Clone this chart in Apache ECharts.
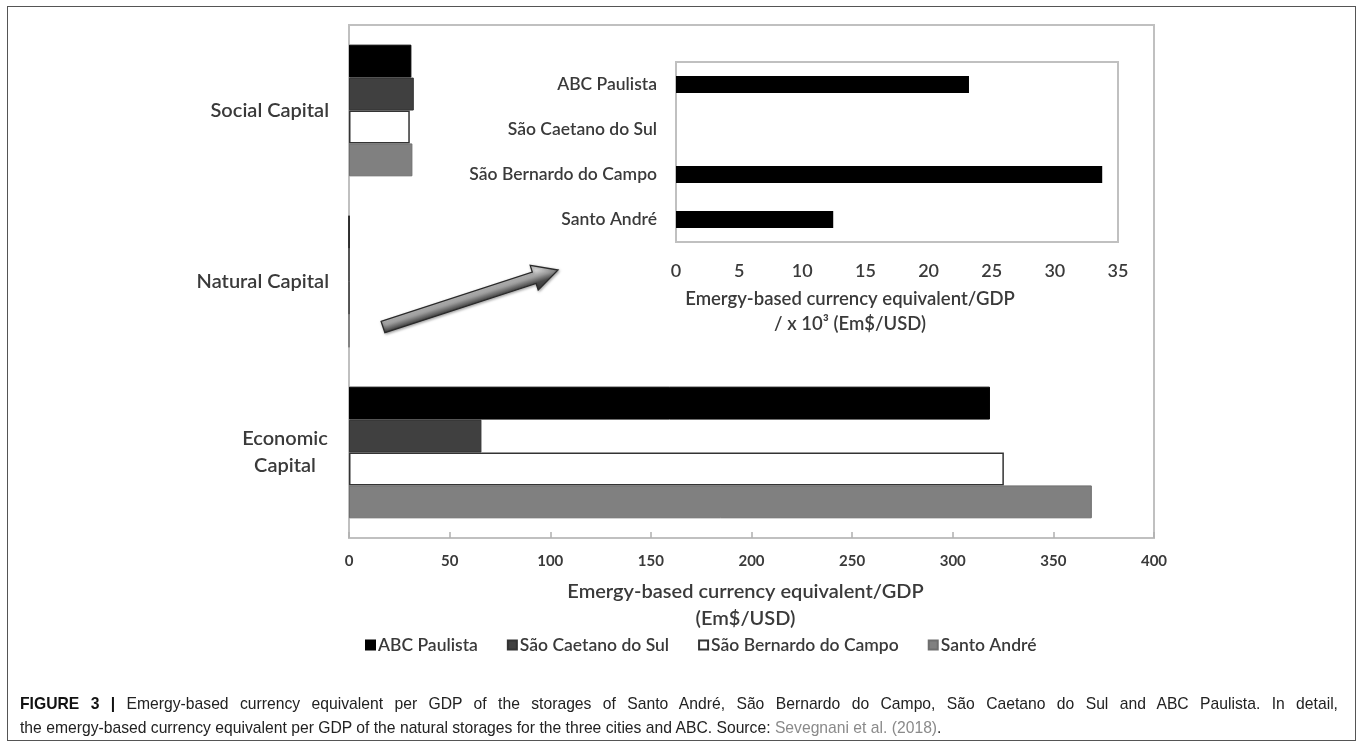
<!DOCTYPE html>
<html>
<head>
<meta charset="utf-8">
<script src="https://cdn.jsdelivr.net/npm/echarts@6/dist/echarts.min.js"></script>
<style>
  html, body { margin: 0; padding: 0; background: #fff; }
  #wrap { position: relative; width: 1358px; height: 742px; overflow: hidden; }
  #frame { position: absolute; left: 7px; top: 6px; width: 1347px; height: 733px; border: 1.5px solid #555; }
  #chart { position: absolute; left: 0; top: 0; width: 1358px; height: 742px; }
  #caption { position: absolute; left: 20px; top: 692px; width: 1318px; font-family: "Liberation Sans", Arial, sans-serif;
             font-size: 15.7px; line-height: 24px; color: #222; white-space: nowrap; }
  #caption .l1 { text-align: justify; text-align-last: justify; white-space: normal; }
  #caption b { color: #111; }
  #caption .ref { color: #8a8a8a; }
</style>
</head>
<body>
<div id="wrap">
  <div id="frame"></div>
  <div id="chart"></div>
  <div id="caption"><div class="l1"><b>FIGURE 3 |</b> Emergy-based currency equivalent per GDP of the storages of Santo André, São Bernardo do Campo, São Caetano do Sul and ABC Paulista. In detail,</div><div>the emergy-based currency equivalent per GDP of the natural storages for the three cities and ABC. Source: <span class="ref">Sevegnani et al. (2018)</span>.</div></div>
</div>
<script>
// ---- Main chart data ----
const capitalCategories = ['Social Capital', 'Natural Capital', 'Economic Capital'];
const seriesNames = ['ABC Paulista', 'São Caetano do Sul', 'São Bernardo do Campo', 'Santo André'];
const abcPaulista = [31.0, 0.0232, 318.5];
const saoCaetano = [32.2, 0, 65.8];
const saoBernardo = [30.2, 0.0338, 325.4];
const santoAndre = [31.5, 0.0125, 369.1];
const mainTicks = [0, 50, 100, 150, 200, 250, 300, 350, 400];

// ---- Inset (natural storages, x10^-3) ----
const insetCities = ['ABC Paulista', 'São Caetano do Sul', 'São Bernardo do Campo', 'Santo André'];
const insetValues = [23.2, 0, 33.75, 12.45];
const insetTicks = [0, 5, 10, 15, 20, 25, 30, 35];

const FONT = 'Lato, "Open Sans", sans-serif';
const LABEL_COLOR = '#3a3a3a';

const chart = echarts.init(document.getElementById('chart'));

const styles = [
  { color: '#000000', borderColor: '#000000', borderWidth: 1 },
  { color: '#404040', borderColor: '#333333', borderWidth: 1 },
  { color: '#ffffff', borderColor: '#333333', borderWidth: 1.5 },
  { color: '#808080', borderColor: '#6e6e6e', borderWidth: 1 }
];
const mainData = [abcPaulista, saoCaetano, saoBernardo, santoAndre];

const mainSeries = seriesNames.map((n, i) => ({
  name: n,
  type: 'bar',
  xAxisIndex: 0,
  yAxisIndex: 0,
  data: mainData[i],
  barGap: '0%',
  barCategoryGap: '23%',
  itemStyle: styles[i],
  silent: true
}));

// arrow geometry (decoration)
const arrowPts = [[381.1,321.3],[532.3,272.0],[530.2,265.4],[558,270],[538.2,290.1],[536.1,283.5],[384.9,332.7]];
// gradient perpendicular to arrow direction (global coords)
const arrowFill = new echarts.graphic.LinearGradient(466.0, 285.6, 474.0, 310.4, [
  { offset: 0, color: '#e0e0e0' },
  { offset: 0.27, color: '#d4d4d4' },
  { offset: 0.5, color: '#9a9a9a' },
  { offset: 0.73, color: '#4a4a4a' },
  { offset: 1, color: '#3a3a3a' }
], true);

const option = {
  animation: false,
  backgroundColor: 'transparent',
  grid: [
    { left: 349, top: 25, width: 805, height: 513, show: true, borderColor: '#c0c0c0', borderWidth: 2, backgroundColor: 'transparent', containLabel: false },
    { left: 676, top: 62, width: 442, height: 180, show: true, borderColor: '#c0c0c0', borderWidth: 2, backgroundColor: '#ffffff', containLabel: false, z: 5 }
  ],
  legend: {
    data: seriesNames,
    left: 360,
    top: 631,
    itemWidth: 9,
    itemHeight: 9,
    itemGap: 29,
    icon: 'rect',
    textStyle: { fontFamily: FONT, fontSize: 17.5, fontWeight: 600, color: LABEL_COLOR, padding: [0, 0, 0, -2] }
  },
  xAxis: [
    {
      gridIndex: 0, type: 'value', min: mainTicks[0], max: mainTicks[mainTicks.length - 1], interval: 50,
      axisLine: { show: true, lineStyle: { color: '#c0c0c0', width: 2 } },
      axisTick: { show: true, inside: true, length: 6, lineStyle: { color: '#b0b0b0', width: 1.5 } },
      splitLine: { show: false },
      axisLabel: { margin: 16, fontFamily: FONT, fontSize: 15, fontWeight: 700, color: LABEL_COLOR },
      name: 'Emergy-based currency equivalent/GDP\n(Em$/USD)',
      nameLocation: 'middle',
      nameGap: 40,
      nameTextStyle: { fontFamily: FONT, fontSize: 20, fontWeight: 600, color: LABEL_COLOR, lineHeight: 27, padding: [0, 12, 0, 0] }
    },
    {
      gridIndex: 1, type: 'value', min: insetTicks[0], max: insetTicks[insetTicks.length - 1], interval: 5,
      axisLine: { show: true, lineStyle: { color: '#c0c0c0', width: 2 } },
      axisTick: { show: true, inside: true, length: 6, lineStyle: { color: '#b0b0b0', width: 1.5 } },
      splitLine: { show: false },
      axisLabel: { margin: 20, fontFamily: FONT, fontSize: 18, fontWeight: 600, color: LABEL_COLOR },
      name: 'Emergy-based currency equivalent/GDP\n/ x 10³ (Em$/USD)',
      nameLocation: 'middle',
      nameGap: 45,
      nameTextStyle: { fontFamily: FONT, fontSize: 18.5, fontWeight: 600, color: LABEL_COLOR, lineHeight: 25, padding: [0, 94, 0, 0] }
    }
  ],
  yAxis: [
    {
      gridIndex: 0, type: 'category', data: capitalCategories, inverse: true,
      axisLine: { show: true, lineStyle: { color: '#c0c0c0', width: 2 } },
      axisTick: { show: false },
      axisLabel: {
        margin: 20, fontFamily: FONT, fontSize: 20, fontWeight: 600, color: LABEL_COLOR,
        formatter: v => v === 'Economic Capital' ? '{c|Economic}\n{c|Capital}' : v,
        rich: { c: { width: 88, align: 'center', fontFamily: FONT, fontSize: 20, fontWeight: 600, color: LABEL_COLOR, lineHeight: 27 } }
      }
    },
    {
      gridIndex: 1, type: 'category', data: insetCities, inverse: true,
      axisLine: { show: true, lineStyle: { color: '#c0c0c0', width: 2 } },
      axisTick: { show: false },
      axisLabel: { margin: 19, fontFamily: FONT, fontSize: 17.5, fontWeight: 600, color: LABEL_COLOR }
    }
  ],
  series: mainSeries.concat([
    {
      name: 'inset', type: 'bar', xAxisIndex: 1, yAxisIndex: 1, data: insetValues,
      barWidth: 17, itemStyle: { color: '#000' }, z: 6, silent: true
    }
  ]),
  graphic: [
    {
      type: 'polygon',
      shape: { points: arrowPts },
      style: {
        fill: arrowFill,
        stroke: '#2a2a2a',
        lineWidth: 1.3,
        shadowBlur: 3,
        shadowColor: 'rgba(0,0,0,0.35)',
        shadowOffsetX: 1,
        shadowOffsetY: 1
      },
      z: 10
    }
  ]
};
chart.setOption(option);
</script>
</body>
</html>
